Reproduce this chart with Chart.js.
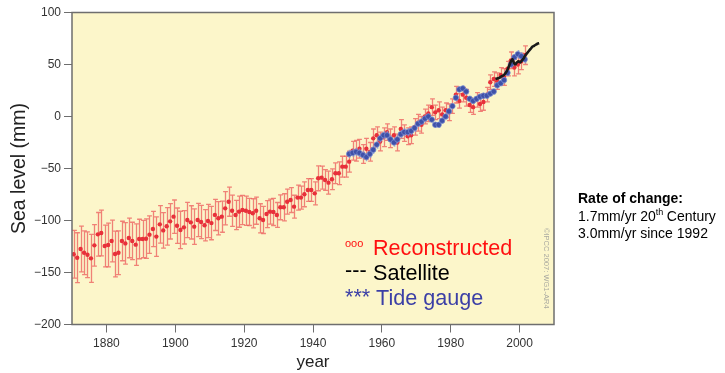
<!DOCTYPE html>
<html>
<head>
<meta charset="utf-8">
<script src="https://cdn.jsdelivr.net/npm/chart.js@4/dist/chart.umd.min.js"></script>
<style>
  html, body { margin: 0; padding: 0; background: #ffffff; }
  #wrap { width: 725px; height: 373px; position: relative; }
</style>
</head>
<body>
<div id="wrap"><canvas id="c" width="725" height="373"></canvas></div>
<script>
// Reconstructed global mean sea level, annual means (mm) with error estimates
const reconYears = [
  1870,1871,1872,1873,1874,1875,1876,1877,1878,1879,
  1880,1881,1882,1883,1884,1885,1886,1887,1888,1889,
  1890,1891,1892,1893,1894,1895,1896,1897,1898,1899,
  1900,1901,1902,1903,1904,1905,1906,1907,1908,1909,
  1910,1911,1912,1913,1914,1915,1916,1917,1918,1919,
  1920,1921,1922,1923,1924,1925,1926,1927,1928,1929,
  1930,1931,1932,1933,1934,1935,1936,1937,1938,1939,
  1940,1941,1942,1943,1944,1945,1946,1947,1948,1949,
  1950,1951,1952,1953,1954,1955,1956,1957,1958,1959,
  1960,1961,1962,1963,1964,1965,1966,1967,1968,1969,
  1970,1971,1972,1973,1974,1975,1976,1977,1978,1979,
  1980,1981,1982,1983,1984,1985,1986,1987,1988,1989,
  1990,1991,1992,1993,1994,1995,1996,1997,1998,1999,
  2000,2001
];
const reconLevel = [
  -132.5,-135.8,-127.4,-131,-132.9,-136.4,-123.9,-113.3,-112,-124.5,
  -123.6,-119.7,-132.2,-131,-119.7,-122,-116.8,-119.7,-123.2,-117.8,
  -117.8,-117.5,-113.6,-108.2,-115.5,-103.7,-109.5,-105.6,-100.8,-96.3,
  -105,-109.1,-106.6,-99.5,-101.8,-105.9,-99.5,-101.4,-104.6,-100.5,
  -102.5,-94.6,-97.9,-96.3,-88.3,-81.9,-90.6,-94.7,-91.5,-89.9,
  -90.6,-91.8,-93.1,-90.6,-97.9,-99.5,-93.8,-91.5,-91.8,-94.7,
  -87.3,-87.3,-81.9,-80.3,-86.7,-78,-78,-74.8,-70.7,-70.7,
  -73.9,-59.4,-58.8,-61,-63.6,-60.4,-54.6,-54.6,-48.2,-48.2,
  -43.4,-33,-33,-31,-36,-31,-34,-21,-18,-24,
  -20,-15,-21,-18,-25,-12,-16,-19,-18,-10,
  -6,-8,0,3,9,4,6,2,6,4,
  10,21,15,21,18,11,9,16,12,14,
  21,33,36,34,40,38,46,54,47,50,
  53,59
];
const reconError = [
  23,24,22,21,22,23,20,21,22,20,
  21,20,22,21,19,20,19,18,20,19,
  18,19,18,17,19,18,17,18,17,16,
  17,18,16,17,16,17,16,16,15,16,
  16,15,16,15,16,14,15,14,15,14,
  14,13,14,13,14,13,13,12,13,12,
  12,13,12,12,11,12,11,12,11,11,
  11,12,11,10,11,10,10,11,10,10,
  10,9,10,9,9,10,9,9,8,9,
  9,8,9,8,8,9,8,8,8,8,
  8,8,7,8,8,7,8,7,7,8,
  7,8,7,7,8,7,7,7,7,8,
  7,7,7,8,7,8,7,8,8,9,
  8,9
];

// Tide gauge record, annual means (mm)
const tideYears = [
  1950,1951,1952,1953,1954,1955,1956,1957,1958,1959,
  1960,1961,1962,1963,1964,1965,1966,1967,1968,1969,
  1970,1971,1972,1973,1974,1975,1976,1977,1978,1979,
  1980,1981,1982,1983,1984,1985,1986,1987,1988,1989,
  1990,1991,1992,1993,1994,1995,1996,1997,1998,1999,
  2000,2001
];
const tideLevel = [
  -36,-35,-34,-35,-37,-39,-36,-32,-27,-21,
  -18,-18,-22,-25,-22,-17,-15,-15,-14,-11,
  -7,-5,-2,0,-3,-8,-8,-4,0,5,
  10,18,26,27,24,17,15,17,19,20,
  20,22,24,30,32,35,42,50,57,60,
  58,55
];
const tideError = [
  4,4,4,4,4,4,4,4,4,4,
  4,4,4,4,4,4,4,4,4,4,
  3,3,3,3,3,3,3,3,3,3,
  3,3,3,3,3,3,3,3,3,3,
  3,3,3,3,3,3,3,3,3,4,
  4,4
];

// Satellite altimetry (mm)
const satYears = [
  1993.0,1993.5,1994.0,1994.5,1995.0,1995.5,1996.0,1996.5,1997.0,1997.5,
  1997.9,1998.3,1998.7,1999.2,1999.7,2000.2,2000.7,2001.2,2001.7,2002.2,
  2002.7,2003.2,2003.7,2004.2,2004.7,2005.2,2005.7
];
const satLevel = [
  36,36.5,37,38,39,40,42,45,49,53,
  55,52,50,52,53,52,54,56,59,61,
  63,65,67,68,69,70,70.5
];

// Axis ticks
const xTicks = [1880, 1900, 1920, 1940, 1960, 1980, 2000];
const yTicks = [-200, -150, -100, -50, 0, 50, 100];

const FONT = '"Liberation Sans", Arial, Helvetica, sans-serif';
Chart.defaults.font.family = FONT;

// annual means are plotted at mid-year
const toPoints = (xs, ys, shift) => xs.map((x, i) => ({ x: x + shift, y: ys[i] }));

// Yellow plot panel behind the data
const panelPlugin = {
  id: 'panel',
  beforeDraw(chart) {
    const { ctx, chartArea: a } = chart;
    ctx.save();
    ctx.fillStyle = '#fcf6ca';
    ctx.fillRect(a.left, a.top, a.right - a.left, a.bottom - a.top);
    ctx.restore();
  }
};

// Vertical error bars with caps, drawn just before each dataset's markers
const errorBarPlugin = {
  id: 'errorBars',
  beforeDatasetDraw(chart, args) {
    const ds = chart.data.datasets[args.index];
    if (!ds.errors) return;
    const { ctx, chartArea: a } = chart;
    const xs = chart.scales.x, ys = chart.scales.y;
    ctx.save();
    ctx.beginPath();
    ctx.rect(a.left, a.top, a.right - a.left, a.bottom - a.top);
    ctx.clip();
    ctx.strokeStyle = ds.errorColor;
    ctx.lineWidth = ds.errorWidth;
    const cap = ds.capHalf;
    ds.data.forEach((p, i) => {
      const e = ds.errors[i];
      const px = Math.round(xs.getPixelForValue(p.x)) + 0.5;
      const y1 = ys.getPixelForValue(p.y + e);
      const y2 = ys.getPixelForValue(p.y - e);
      ctx.beginPath();
      ctx.moveTo(px, y1); ctx.lineTo(px, y2);
      if (cap > 0) {
        ctx.moveTo(px - cap, y1); ctx.lineTo(px + cap, y1);
        ctx.moveTo(px - cap, y2); ctx.lineTo(px + cap, y2);
      }
      ctx.stroke();
    });
    ctx.restore();
  }
};

// Frame, in-panel key, credit line and rate notes
const notesPlugin = {
  id: 'notes',
  afterDraw(chart) {
    const { ctx, chartArea: a } = chart;
    ctx.save();
    ctx.strokeStyle = '#6e6e6e';
    ctx.lineWidth = 1.5;
    ctx.strokeRect(a.left, a.top, a.right - a.left, a.bottom - a.top);

    ctx.textAlign = 'left';
    ctx.textBaseline = 'alphabetic';
    // key
    ctx.fillStyle = '#ff1010';
    ctx.font = '11px ' + FONT;
    ctx.fillText('ooo', 345, 247);
    ctx.font = '21.6px ' + FONT;
    ctx.fillText('Reconstructed', 373, 255);
    ctx.fillStyle = '#000000';
    ctx.fillText('---', 345, 277);
    ctx.fillText('Satellite', 373, 280);
    ctx.fillStyle = '#3b3fa6';
    ctx.fillText('***', 345, 304);
    ctx.fillText('Tide gauge', 376, 305);

    // credit line, running downwards along the right edge
    ctx.save();
    ctx.translate(544, 228);
    ctx.rotate(Math.PI / 2);
    ctx.fillStyle = '#a9a9a0';
    ctx.font = '7.5px ' + FONT;
    ctx.fillText('\u00A9IPCC 2007: WG1-AR4', 0, 0);
    ctx.restore();

    // rate of change notes
    ctx.fillStyle = '#000000';
    ctx.font = 'bold 14px ' + FONT;
    ctx.fillText('Rate of change:', 578, 203);
    ctx.font = '14px ' + FONT;
    let x = 578;
    const s1 = '1.7mm/yr 20';
    ctx.fillText(s1, x, 221);
    x += ctx.measureText(s1).width;
    ctx.font = '9px ' + FONT;
    ctx.fillText('th', x, 215);
    x += ctx.measureText('th').width + 3.5;
    ctx.font = '14px ' + FONT;
    ctx.fillText('Century', x, 221);
    ctx.fillText('3.0mm/yr since 1992', 578, 238);
    ctx.restore();
  }
};

const minusLabel = v => (v < 0 ? '\u2212' + Math.abs(v) : String(v));

new Chart(document.getElementById('c'), {
  type: 'scatter',
  data: {
    datasets: [
      {
        label: 'Satellite',
        type: 'line',
        data: toPoints(satYears, satLevel, 0),
        borderColor: '#1a1a1a',
        borderWidth: 2.6,
        pointRadius: 0,
        tension: 0.35,
        fill: false,
        order: 0
      },
      {
        label: 'Tide gauge',
        data: toPoints(tideYears, tideLevel, 0.5),
        errors: tideError,
        errorColor: 'rgba(130,150,215,0.75)',
        errorWidth: 1.6,
        capHalf: 0,
        backgroundColor: '#3f51a8',
        borderColor: 'rgba(120,140,210,0.7)',
        borderWidth: 1,
        pointRadius: 2.7,
        pointStyle: 'circle',
        order: 1
      },
      {
        label: 'Reconstructed',
        data: toPoints(reconYears, reconLevel, 0.5),
        errors: reconError,
        errorColor: 'rgba(236,90,90,0.75)',
        errorWidth: 1.3,
        capHalf: 2.4,
        backgroundColor: '#e8303a',
        borderColor: '#e8303a',
        borderWidth: 0,
        pointRadius: 2.2,
        order: 2
      }
    ]
  },
  options: {
    responsive: false,
    animation: false,
    devicePixelRatio: 1,
    layout: { padding: { top: 12.5, right: 171, left: 0, bottom: 0 } },
    plugins: {
      legend: { display: false },
      tooltip: { enabled: false }
    },
    scales: {
      x: {
        type: 'linear',
        min: 1870,
        max: 2010,
        afterFit(scale) { scale.height = 48.5; },
        afterBuildTicks(scale) { scale.ticks = xTicks.map(v => ({ value: v })); },
        border: { display: false },
        grid: { drawOnChartArea: false, drawTicks: true, tickLength: 8, tickColor: '#6e6e6e', tickWidth: 1 },
        ticks: { color: '#333333', font: { size: 12 }, padding: 4, maxRotation: 0, callback: v => String(v) },
        title: { display: true, text: 'year', color: '#222222', font: { size: 17 }, padding: { top: 0, bottom: 0 } }
      },
      y: {
        type: 'linear',
        min: -200,
        max: 100,
        afterFit(scale) { scale.width = 72; },
        afterBuildTicks(scale) { scale.ticks = yTicks.map(v => ({ value: v })); },
        border: { display: false },
        grid: { drawOnChartArea: false, drawTicks: true, tickLength: 8, tickColor: '#6e6e6e', tickWidth: 1 },
        ticks: { color: '#333333', font: { size: 12 }, padding: 3, callback: minusLabel },
        title: { display: true, text: 'Sea level (mm)', color: '#222222', font: { size: 19.5 }, padding: { top: 8, bottom: 0 } }
      }
    }
  },
  plugins: [panelPlugin, errorBarPlugin, notesPlugin]
});
</script>
</body>
</html>
